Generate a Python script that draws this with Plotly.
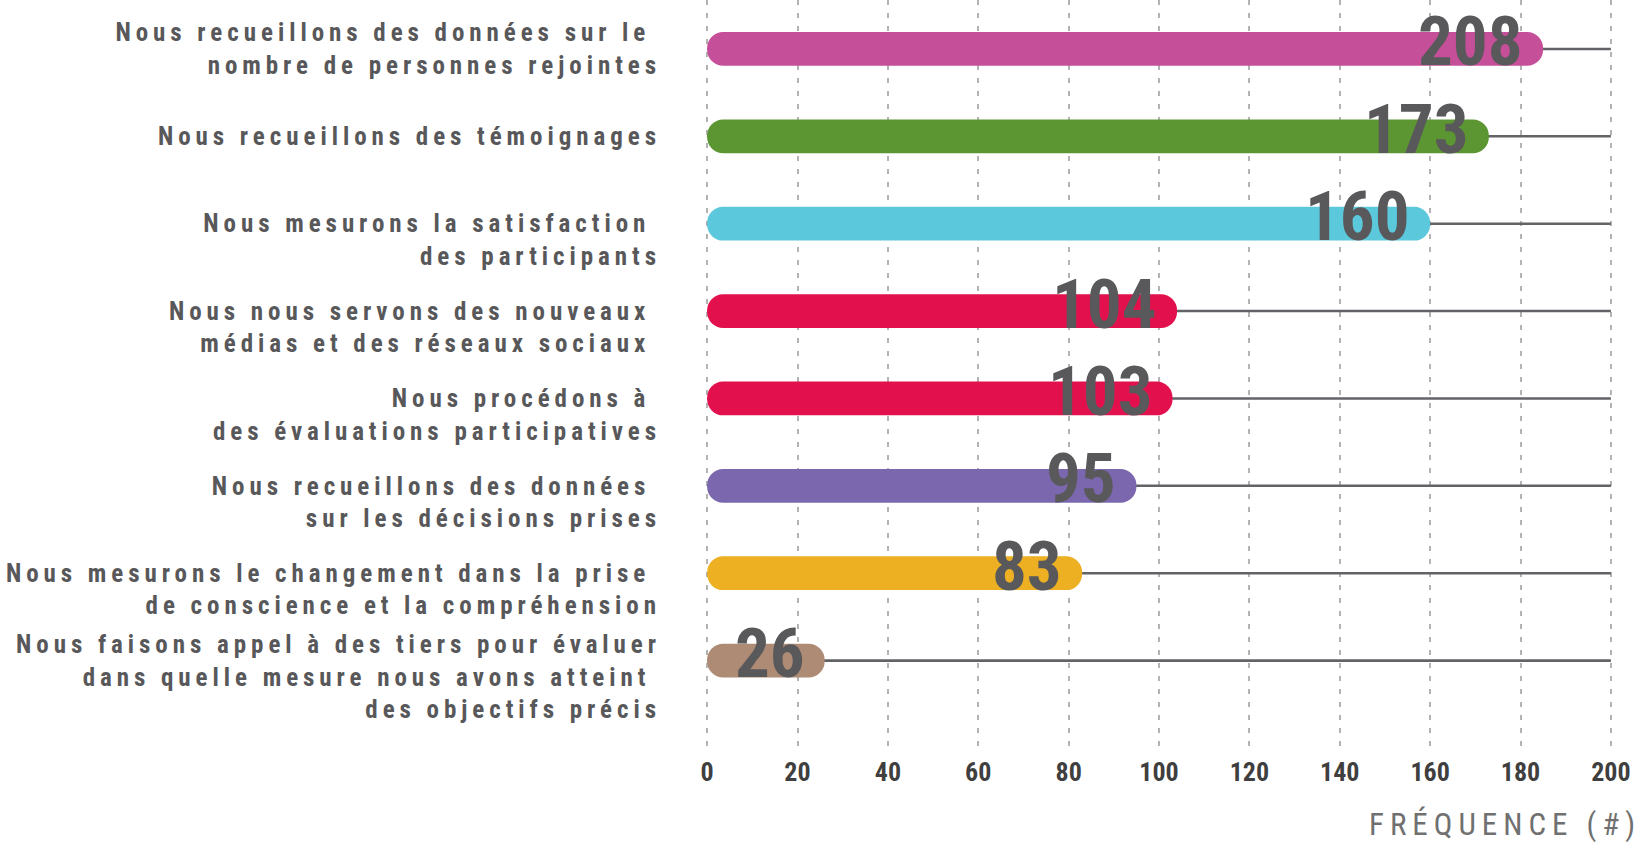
import plotly.graph_objects as go

# ---- data ----
label_lines = [
    ["Nous recueillons des données sur le\u00a0", "nombre de personnes rejointes"],
    ["Nous recueillons des témoignages"],
    ["Nous mesurons la satisfaction\u00a0", "des participants"],
    ["Nous nous servons des nouveaux\u00a0", "médias et des réseaux sociaux\u00a0"],
    ["Nous procédons à\u00a0", "des évaluations participatives"],
    ["Nous recueillons des données\u00a0", "sur les décisions prises"],
    ["Nous mesurons le changement dans la prise\u00a0", "de conscience et la compréhension"],
    ["Nous faisons appel à des tiers pour évaluer", "dans quelle mesure nous avons atteint\u00a0", "des objectifs précis"],
]
values = [208, 173, 160, 104, 103, 95, 83, 26]          # printed labels
bar_lengths = [185, 173, 160, 104, 103, 95, 83, 26]     # drawn bar lengths (as seen)
colors = ["#c54f98", "#5c9632", "#5bc8dc", "#e2114e", "#e2114e", "#7b67ad", "#ecb022", "#ae8b74"]
x_ticks = [0, 20, 40, 60, 80, 100, 120, 140, 160, 180, 200]
x_max = 200
axis_title = "FRÉQUENCE (#)"

lead_blank = [False, False, True, True, True, True, True, True]
categories = [("<br>" if lb else "") + "<br>".join(lines) for lines, lb in zip(label_lines, lead_blank)]

NARROW = "Liberation Sans Narrow, Arial Narrow, Roboto Condensed, DejaVu Sans Condensed, sans-serif"

W, H = 1648, 849
M_L, M_R, M_T, M_B = 706, 36, 0, 101
bw = 0.386

fig = go.Figure()

# background track lines (thin bars, drawn first)
fig.add_trace(go.Bar(x=[x_max] * len(categories), y=categories, orientation="h", width=0.029,
                     marker=dict(color="#626366", line=dict(width=0)),
                     hoverinfo="skip", showlegend=False))

# main bars, rounded at both ends (explicit base)
fig.add_trace(go.Bar(x=bar_lengths, base=[0] * len(bar_lengths), y=categories,
                     orientation="h", width=bw,
                     marker=dict(color=colors, line=dict(width=0), cornerradius="50%"),
                     hoverinfo="skip", showlegend=False))

for c, L, v in zip(categories, bar_lengths, values):
    fig.add_annotation(x=L, y=c, text=str(v), showarrow=False, xanchor="right", yanchor="middle",
                       xshift=-18, yshift=7,
                       font=dict(family=NARROW, size=69, color="#59595b", weight="bold"))

fig.add_annotation(x=1, y=0, xref="paper", yref="paper", text=axis_title, showarrow=False,
                   xanchor="right", yanchor="top", xshift=-8, yshift=-56,
                   font=dict(family=NARROW, size=31, color="#707070"))

fig.update_layout(
    width=W, height=H,
    margin=dict(l=M_L, r=M_R, t=M_T, b=M_B),
    paper_bgcolor="white", plot_bgcolor="white",
    barmode="overlay",
    showlegend=False,
    xaxis=dict(range=[-0.25, x_max + 0.25], tickvals=x_ticks, showgrid=True, gridcolor="#b3b3b3", gridwidth=2,
               griddash="5px,8px", zeroline=False, showline=False, ticks="",
               tickfont=dict(family=NARROW, size=26, color="#3f3f3f", weight="bold"),
               ticklabelstandoff=6),
    yaxis=dict(type="category", categoryorder="array", categoryarray=categories,
               range=[8.0, -0.56], showgrid=False, zeroline=False, showline=False, ticks="",
               tickfont=dict(family=NARROW, size=25, color="#58585a", weight="bold"),
               ticklabelstandoff=44),
)

post = """
document.body.style.margin='0';
var gd=document.getElementById('{plot_id}');
gd.querySelectorAll('.ytick text').forEach(function(t){t.style.letterSpacing='4.95px';});
gd.querySelectorAll('.annotation-text').forEach(function(t){
  if(t.textContent.indexOf('FR')===0){t.style.letterSpacing='6px';}
});
"""
fig.write_html("out.html", post_script=post, config={"displayModeBar": False, "responsive": False})
